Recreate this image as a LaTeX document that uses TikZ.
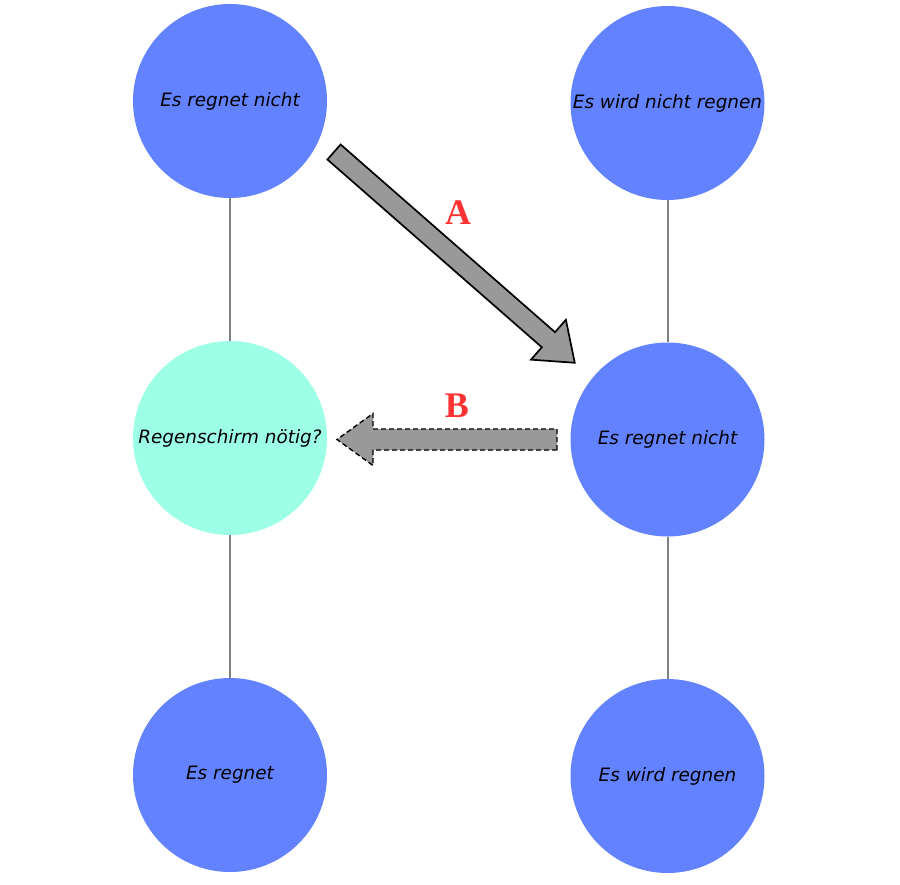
\documentclass[tikz,border=0pt]{standalone}
\usepackage{fontspec}
\newfontfamily\statefont{DejaVu Sans}
\newfontfamily\markfont{Liberation Serif}
\usetikzlibrary{positioning}
\definecolor{stateblue}{HTML}{6282FF}
\definecolor{askcyan}{HTML}{9EFFE7}
\definecolor{arrowgray}{HTML}{999999}
\definecolor{markred}{HTML}{FF3333}
\tikzset{
    state/.style={
        circle, fill=stateblue, draw=none,
        minimum size=194pt, inner sep=0pt,
        font=\statefont\itshape\fontsize{18.4}{20}\selectfont
    },
    question/.style={state, fill=askcyan},
    link/.style={draw=black!50, line width=2pt},
    fatarrow/.style={draw=black, fill=arrowgray, line width=1.7pt, line join=miter},
    marklabel/.style={font=\markfont\bfseries\fontsize{36}{40}\selectfont, text=markred}
}

\begin{document}
\begin{tikzpicture}[x=1pt, y=-1pt]
\useasboundingbox (0,0) rectangle (900,884);

% Left column
\node[state] (past) at (230,101) {Es regnet nicht};
\node[question] (ask) at (230,438) {Regenschirm nötig?};
\node[state] (rain) at (230,775) {Es regnet};

% Right column
\node[state] (nofc) at (667.5,103) {Es wird nicht regnen};
\node[state] (now) at (667.5,439.5) {Es regnet nicht};
\node[state] (fc) at (667.5,776) {Es wird regnen};

% Links
\draw[link] (past) -- (ask);
\draw[link] (ask) -- (rain);
\draw[link] (nofc) -- (now);
\draw[link] (now) -- (fc);

% Step A
\begin{scope}[shift={(334,152)}, rotate=-41.2]
  \draw[fatarrow] (0,-10) -- (285,-10) -- (285,-26.5) -- (320,0)
    -- (285,26.5) -- (285,10) -- (0,10) -- cycle;
\end{scope}
\node[marklabel] (labA) at (458,213) {A};

% Step B
\begin{scope}[shift={(557,439.5)}, rotate=180]
  \draw[fatarrow, line width=1.4pt, dash pattern=on 5pt off 3pt] (0,-10.5) -- (184,-10.5) -- (184,-26) -- (220,0)
    -- (184,26) -- (184,10.5) -- (0,10.5) -- cycle;
\end{scope}
\node[marklabel] (labB) at (457,406) {B};

\end{tikzpicture}
\end{document}
